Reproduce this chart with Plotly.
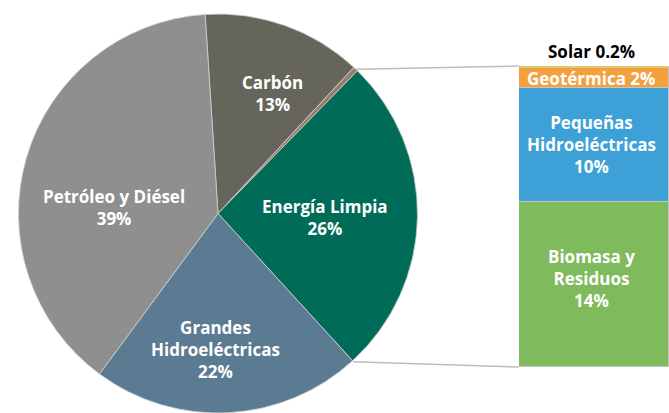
import math
import plotly.graph_objects as go

# ---- data ----
pie_labels = ["Carbón", "Otros", "Energía Limpia", "Grandes Hidroeléctricas", "Petróleo y Diésel"]
pie_values = [13, 0.4, 26, 22, 39]
pie_text = ["Carbón<br>13%", "", "Energía Limpia<br>26%", "Grandes<br>Hidroeléctricas<br>22%", "Petróleo y Diésel<br>39%"]

bar_labels = ["Biomasa y Residuos", "Pequeñas Hidroeléctricas", "Geotérmica", "Solar"]
bar_values = [14.4, 9.9, 1.7, 0.2]
bar_text = ["Biomasa y<br>Residuos<br>14%", "Pequeñas<br>Hidroeléctricas<br>10%", "Geotérmica 2%", "Solar 0.2%"]

# ---- styles ----
W, H = 669, 413
pie_colors = ["#66655B", "#9C7B6D", "#006C58", "#5B7B93", "#8F8F8F"]
bar_colors = ["#7FBA5D", "#3DA0D7", "#F5A03F", "#F2CF1A"]
FONT = "Open Sans"
FSIZE = 17
rotation = -3.7

# pie geometry (pixels)
cx_px, cy_px, r_px = 218, 214, 200
pie_dom_x = [(cx_px - r_px) / W, (cx_px + r_px) / W]
pie_dom_y = [max(0.0, (H - cy_px - r_px) / H), (H - cy_px + r_px) / H]

# bar geometry
bar_dom_x = [519 / W, 1.0]
bar_dom_y = [46 / H, 347 / H]
bar_total = sum(bar_values)

fig = go.Figure()
fig.add_trace(go.Pie(
    labels=pie_labels, values=pie_values, sort=False, direction="clockwise",
    rotation=rotation, textinfo="none", hoverinfo="label+percent",
    marker=dict(colors=pie_colors, line=dict(color="#D0D0D0", width=0.8)),
    domain=dict(x=pie_dom_x, y=pie_dom_y), showlegend=False,
))

for lab, val, col in zip(bar_labels, bar_values, bar_colors):
    fig.add_trace(go.Bar(
        x=[0], y=[val], name=lab, marker=dict(color=col, line=dict(color="#C4C4C4", width=1)),
        width=1, showlegend=False, hoverinfo="name+y",
    ))

annotations = []
label_font = dict(family=FONT, size=FSIZE, color="white", weight="bold")
# pie labels
pie_label_pos = {"Carbón": (272, 93), "Energía Limpia": (325, 218),
                 "Grandes Hidroeléctricas": (215, 349), "Petróleo y Diésel": (114, 207)}
for lab, txt in zip(pie_labels, pie_text):
    if not txt:
        continue
    px, py = pie_label_pos[lab]
    annotations.append(dict(x=px / W, y=1 - py / H, xref="paper", yref="paper", text=txt,
                            showarrow=False, font=label_font,
                            xanchor="center", yanchor="middle"))

# bar labels
cum = 0
for lab, val, txt in zip(bar_labels, bar_values, bar_text):
    mid = cum + val / 2
    cum += val
    if lab == "Solar":
        annotations.append(dict(x=0, y=cum, xref="x", yref="y", text=txt, showarrow=False,
                                font=dict(family=FONT, size=FSIZE, color="black", weight="bold"),
                                xanchor="center", yanchor="bottom", xshift=-3, yshift=1))
    else:
        annotations.append(dict(x=0, y=mid, xref="x", yref="y", text=txt, showarrow=False,
                                font=label_font,
                                xanchor="center", yanchor="middle", xshift=-3,
                                yshift=6 if lab.startswith("Biomasa") else 0))

# connector lines computed from slice angles
total = sum(pie_values)
start_idx = pie_labels.index("Energía Limpia")
a0 = rotation + 360 * sum(pie_values[:start_idx]) / total - 360 * pie_values[1] / total / 2
a1 = rotation + 360 * sum(pie_values[:start_idx + 1]) / total

def pie_pt(angle_deg):
    a = math.radians(angle_deg)
    x = cx_px + r_px * math.sin(a)
    y = cy_px - r_px * math.cos(a)
    return x / W, 1 - y / H

shapes = []
p0 = pie_pt(a0)
p1 = pie_pt(a1)
shapes.append(dict(type="line", xref="paper", yref="paper", x0=p0[0], y0=p0[1],
                   x1=bar_dom_x[0], y1=bar_dom_y[1], line=dict(color="#BEBEBE", width=1.5)))
shapes.append(dict(type="line", xref="paper", yref="paper", x0=p1[0], y0=p1[1],
                   x1=bar_dom_x[0], y1=bar_dom_y[0], line=dict(color="#BEBEBE", width=1.5)))

fig.update_layout(
    width=W, height=H, margin=dict(l=0, r=0, t=0, b=0),
    paper_bgcolor="white", plot_bgcolor="white",
    barmode="stack", bargap=0,
    xaxis=dict(domain=bar_dom_x, range=[-0.5, 0.5], visible=False, fixedrange=True),
    yaxis=dict(domain=bar_dom_y, range=[0, bar_total], visible=False, fixedrange=True),
    annotations=annotations, shapes=shapes,
    font=dict(family=FONT),
)

fig.write_html("out.html", config={"displayModeBar": False},
               post_script="document.body.style.margin='0';document.body.style.overflow='hidden';")
